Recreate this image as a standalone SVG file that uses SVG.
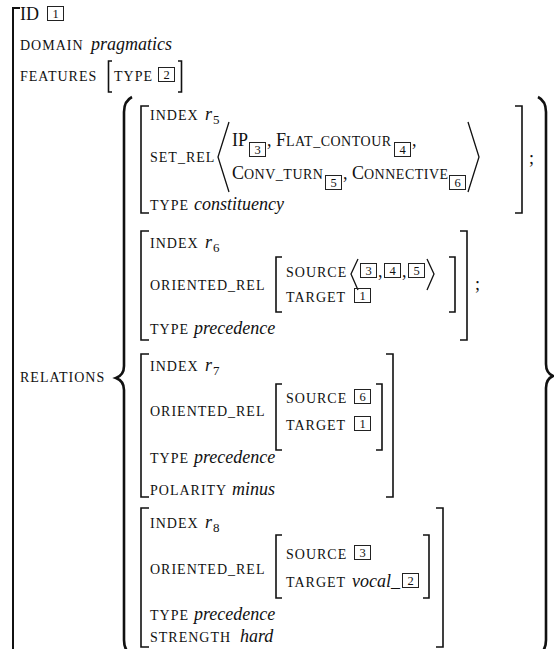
<svg xmlns="http://www.w3.org/2000/svg" width="554" height="649" viewBox="0 0 554 649">
<style>
text{font-family:"Liberation Serif","Times New Roman",serif;fill:#111}
.c{font-size:18px}
.sc{font-size:14px;letter-spacing:1px}
.sc2{font-size:14px;letter-spacing:0.5px}
.it{font-size:18px;font-style:italic}
.sub{font-size:13px}
.d{font-size:12.5px;text-anchor:middle}
.bx{fill:none;stroke:#222;stroke-width:1}
.br{fill:none;stroke:#111;stroke-width:1.6}
.ob{fill:none;stroke:#111;stroke-width:2}
.bc{fill:none;stroke:#111;stroke-width:2.6}
.ag{fill:none;stroke:#111;stroke-width:1.3}
</style>
<rect width="554" height="649" fill="#fff"/>
<g id="outer">
<path class="ob" d="M20,8 H13 V652"/>
</g>
<g id="top">
<text class="c" x="20" y="20">ID</text>
<rect class="bx" x="47.5" y="6.5" width="16" height="14"/><text class="d" x="55.5" y="18">1</text>
<text class="sc" x="20" y="50">DOMAIN</text><text class="it" x="91" y="50">pragmatics</text>
<text class="sc" x="20" y="81">FEATURES</text>
<path class="br" d="M112,61 H108.5 V92 H112"/>
<text class="sc" x="114" y="81">TYPE</text>
<rect class="bx" x="158.5" y="67.5" width="16" height="14"/><text class="d" x="166.5" y="79">2</text>
<path class="br" d="M178,61 H181.5 V92 H178"/>
<text class="sc" x="20" y="382">RELATIONS</text>
</g>
<g id="braces">
<path class="bc" d="M132,97 Q124,101 124,112 V366 Q124,375 116,378 Q124,381 124,390 V640 Q124,651 132,655"/>
<path class="bc" d="M538,97 Q546,101 546,112 V364 Q546,373 553,376 Q546,379 546,388 V640 Q546,651 538,655"/>
</g>
<g id="r5">
<path class="br" d="M149,106 H141 V213 H149"/>
<path class="br" d="M515,106 H522 V213 H515"/>
<text class="c" x="529" y="164">;</text>
<text class="sc" x="150" y="120">INDEX</text><text class="it" x="205" y="120">r</text><text class="sub" x="213" y="124">5</text>
<text class="sc" x="150" y="162">SET_REL</text>
<path class="ag" d="M229,122 L218,157 L229,192"/>
<text class="c" x="232" y="146">IP</text>
<rect class="bx" x="249.5" y="142.5" width="16" height="14"/><text class="d" x="257.5" y="154">3</text>
<text class="c" x="267" y="146">, F</text><text class="sc2" x="286" y="146">LAT_CONTOUR</text>
<rect class="bx" x="394.5" y="142.5" width="16" height="14"/><text class="d" x="402.5" y="154">4</text>
<text class="c" x="412" y="146">,</text>
<text class="c" x="232" y="179">C</text><text class="sc2" x="244" y="179">ONV_TURN</text>
<rect class="bx" x="325.5" y="175.5" width="16" height="14"/><text class="d" x="333.5" y="187">5</text>
<text class="c" x="343" y="179">, C</text><text class="sc2" x="364" y="179">ONNECTIVE</text>
<rect class="bx" x="449.5" y="175.5" width="16" height="14"/><text class="d" x="457.5" y="187">6</text>
<path class="ag" d="M468,122 L479,157 L468,192"/>
<text class="sc" x="150" y="210">TYPE</text><text class="it" x="194" y="210">constituency</text>
</g>
<g id="r6">
<path class="br" d="M149,231 H141 V340 H149"/>
<path class="br" d="M460,231 H467 V340 H460"/>
<text class="c" x="475" y="290">;</text>
<text class="sc" x="150" y="248">INDEX</text><text class="it" x="205" y="248">r</text><text class="sub" x="213" y="252">6</text>
<text class="sc" x="150" y="290">ORIENTED_REL</text>
<path class="br" d="M282,257 H276 V312 H282"/>
<path class="br" d="M449,257 H455 V312 H449"/>
<text class="sc" x="286" y="277">SOURCE</text>
<path class="ag" d="M358,259 L351,274 L358,290"/>
<rect class="bx" x="360.5" y="263.5" width="16" height="14"/><text class="d" x="368.5" y="275">3</text>
<text class="c" x="378" y="277">,</text>
<rect class="bx" x="384.5" y="263.5" width="16" height="14"/><text class="d" x="392.5" y="275">4</text>
<text class="c" x="402" y="277">,</text>
<rect class="bx" x="408.5" y="263.5" width="16" height="14"/><text class="d" x="416.5" y="275">5</text>
<path class="ag" d="M427,259 L434,274 L427,290"/>
<text class="sc" x="286" y="302">TARGET</text>
<rect class="bx" x="354.5" y="288.5" width="16" height="14"/><text class="d" x="362.5" y="300">1</text>
<text class="sc" x="150" y="334">TYPE</text><text class="it" x="194" y="334">precedence</text>
</g>
<g id="r7">
<path class="br" d="M149,354 H141 V497 H149"/>
<path class="br" d="M386,354 H393 V497 H386"/>
<text class="sc" x="150" y="371">INDEX</text><text class="it" x="205" y="371">r</text><text class="sub" x="213" y="375">7</text>
<text class="sc" x="150" y="416">ORIENTED_REL</text>
<path class="br" d="M282,384 H276 V450 H282"/>
<path class="br" d="M376,384 H382 V450 H376"/>
<text class="sc" x="286" y="403">SOURCE</text>
<rect class="bx" x="354.5" y="389.5" width="16" height="14"/><text class="d" x="362.5" y="401">6</text>
<text class="sc" x="286" y="430">TARGET</text>
<rect class="bx" x="354.5" y="416.5" width="16" height="14"/><text class="d" x="362.5" y="428">1</text>
<text class="sc" x="150" y="463">TYPE</text><text class="it" x="194" y="463">precedence</text>
<text class="sc" x="150" y="495">POLARITY</text><text class="it" x="232" y="495">minus</text>
</g>
<g id="r8">
<path class="br" d="M149,508 H141 V647 H149"/>
<path class="br" d="M436,508 H443 V647 H436"/>
<text class="sc" x="150" y="528">INDEX</text><text class="it" x="205" y="528">r</text><text class="sub" x="213" y="532">8</text>
<text class="sc" x="150" y="574">ORIENTED_REL</text>
<path class="br" d="M282,535 H276 V598 H282"/>
<path class="br" d="M423,535 H429 V598 H423"/>
<text class="sc" x="286" y="559">SOURCE</text>
<rect class="bx" x="354.5" y="545.5" width="16" height="14"/><text class="d" x="362.5" y="557">3</text>
<text class="sc" x="286" y="587">TARGET</text><text class="it" x="352" y="587">vocal_</text>
<rect class="bx" x="402.5" y="573.5" width="16" height="14"/><text class="d" x="410.5" y="585">2</text>
<text class="sc" x="150" y="620">TYPE</text><text class="it" x="194" y="620">precedence</text>
<text class="sc" x="150" y="642">STRENGTH</text><text class="it" x="240" y="642">hard</text>
</g>
</svg>
